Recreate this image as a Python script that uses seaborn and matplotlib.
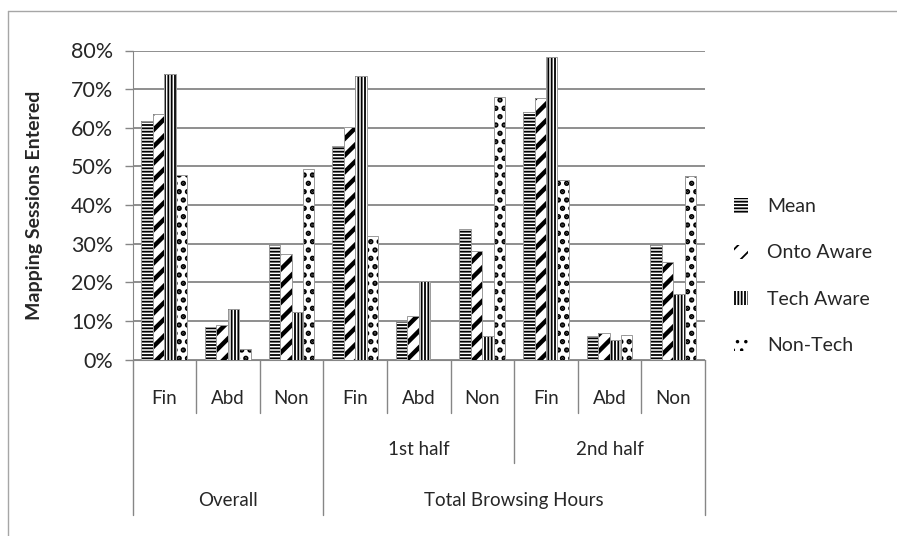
import numpy as np
import pandas as pd
import matplotlib.pyplot as plt
import matplotlib.transforms as mtrans
from matplotlib.lines import Line2D
from matplotlib.patches import Patch
from matplotlib.ticker import PercentFormatter
import seaborn as sns

# data
groups = ["Overall", "1st half", "2nd half"]
outcomes = ["Fin", "Abd", "Non"]
top_group = ["Overall", "Total Browsing Hours"]
series = ["Mean", "Onto Aware", "Tech Aware", "Non-Tech"]

mean = [61.7, 8.3, 29.6, 55.2, 10.0, 33.9, 64.2, 6.0, 29.6]
onto_aware = [63.6, 8.9, 27.2, 60.2, 11.3, 28.1, 67.7, 6.9, 25.2]
tech_aware = [74.0, 13.2, 12.2, 73.5, 20.3, 6.0, 78.4, 5.0, 16.9]
non_tech = [47.8, 2.8, 49.4, 32.0, 0.0, 67.9, 46.4, 6.4, 47.4]

hatches = ["-----", "//", "|||||", ".."]
hatch_lw = [1.3, 3.2, 1.3, 2.6]

keys = [g + " " + o for g in groups for o in outcomes]
rows = []
for name, vals in zip(series, [mean, onto_aware, tech_aware, non_tech]):
    for k, v in zip(keys, vals):
        rows.append({"cat": k, "series": name, "value": v / 100})
df = pd.DataFrame(rows)

sns.set_style("white")
plt.rcParams["font.family"] = ["Lato", "DejaVu Sans"]
plt.rcParams["hatch.linewidth"] = 1.3
plt.rcParams["hatch.color"] = "black"

fig = plt.figure(figsize=(8.97, 5.36), dpi=100)
ax = fig.add_axes([132.5 / 897, 1 - 359.5 / 536, 572.5 / 897, 309 / 536])

# hatched bars
sns.barplot(data=df, x="cat", y="value", hue="series", order=keys, hue_order=series,
            palette={s: "white" for s in series}, width=0.72, gap=0, linewidth=0,
            edgecolor="black", legend=False, ax=ax, zorder=3)
for cont, h, hl in zip(ax.containers, hatches, hatch_lw):
    for bar in cont:
        bar.set_hatch(h)
        bar.set_edgecolor("black")
        bar.set_linewidth(0)
        if hasattr(bar, "set_hatch_linewidth"):
            bar.set_hatch_linewidth(hl)
# thin grey outlines on top
sns.barplot(data=df, x="cat", y="value", hue="series", order=keys, hue_order=series,
            palette={s: "#9a9a9a" for s in series}, width=0.72, gap=0, fill=False,
            linewidth=0.7, legend=False, ax=ax, zorder=4)

gray = "#868686"
ax.set_xlim(-0.5, len(keys) - 0.5)
ax.set_ylim(0, 0.8)
ax.set_yticks(np.arange(0, 0.81, 0.1))
ax.yaxis.set_major_formatter(PercentFormatter(1.0, decimals=0))
ax.yaxis.grid(True, color=gray, lw=1.3, zorder=0)
ax.set_axisbelow(True)
for s in ["top", "right"]:
    ax.spines[s].set_visible(False)
ax.spines["left"].set_color(gray)
ax.spines["bottom"].set_color(gray)
ax.tick_params(axis="y", left=True, length=6, width=1, color=gray, pad=8, labelsize=15.5)
ax.tick_params(axis="x", bottom=False, labelbottom=False)
ax.set_xlabel("")
ax.set_ylabel("Mapping Sessions Entered", fontsize=14, fontweight="bold")
ax.yaxis.set_label_coords(-0.157, 0.5)

# multi-level category axis
tr = mtrans.blended_transform_factory(ax.transData, ax.transAxes)
n_out = len(outcomes)
fs = 13.5
for i, k in enumerate(keys):
    ax.text(i, -0.126, outcomes[i % n_out], transform=tr, ha="center", va="center", fontsize=fs)
for j in range(1, len(groups)):
    ax.text(j * n_out + (n_out - 1) / 2, -0.291, groups[j], transform=tr,
            ha="center", va="center", fontsize=fs)
ax.text((n_out - 1) / 2, -0.456, top_group[0], transform=tr, ha="center", va="center", fontsize=fs)
ax.text(n_out + (len(keys) - n_out - 1) / 2, -0.456, top_group[1], transform=tr,
        ha="center", va="center", fontsize=fs)

for i in range(len(keys) + 1):
    x = i - 0.5
    if i in (0, n_out, len(keys)):
        depth = -0.504
    elif i % n_out == 0:
        depth = -0.335
    else:
        depth = -0.173
    ax.add_line(Line2D([x, x], [0, depth], transform=tr, color=gray, lw=1, clip_on=False))

# legend
handles = [Patch(facecolor="white", edgecolor="black", hatch=h, lw=0) for h in hatches]
fig.legend(handles, series, loc="center left", bbox_to_anchor=(0.818, 0.485),
           bbox_transform=fig.transFigure, frameon=False, fontsize=14,
           handlelength=0.75, handleheight=0.75, handletextpad=0.95, labelspacing=1.5,
           borderpad=0, borderaxespad=0)

# chart border
fig.add_artist(Line2D([8 / 897, 1], [1 - 11 / 536] * 2, transform=fig.transFigure, color="#a6a6a6", lw=1))
fig.add_artist(Line2D([8 / 897] * 2, [0, 1 - 11 / 536], transform=fig.transFigure, color="#a6a6a6", lw=1))

fig.savefig("out.png", dpi=100)
